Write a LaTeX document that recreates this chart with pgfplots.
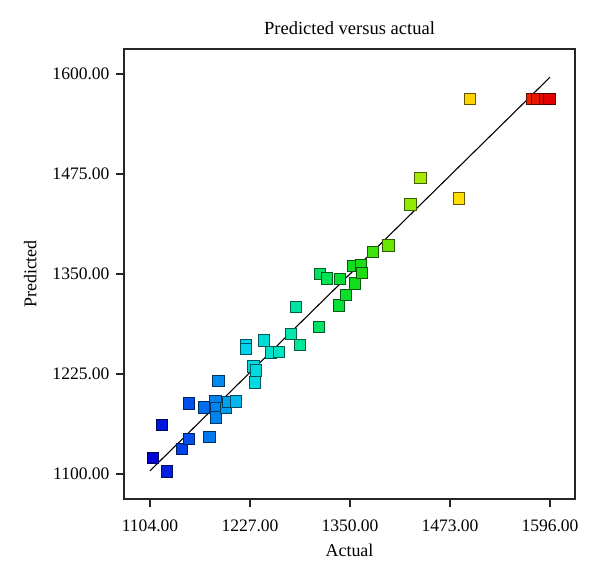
\documentclass[border=0pt]{standalone}
\usepackage{fontspec}
\setmainfont{Liberation Serif}
\usepackage{pgfplots}
\pgfplotsset{compat=1.18}
\pgfplotsset{colormap={dx}{rgb255(0cm)=(0,0,215) rgb255(8cm)=(0,70,235) rgb255(17cm)=(0,140,240) rgb255(24cm)=(0,215,235) rgb255(35cm)=(0,230,175) rgb255(45cm)=(0,225,70) rgb255(52cm)=(20,220,20) rgb255(60cm)=(110,230,0) rgb255(68cm)=(170,235,0) rgb255(77cm)=(255,225,0) rgb255(82cm)=(255,200,0) rgb255(95cm)=(240,40,0) rgb255(100cm)=(225,0,0)}}
\begin{document}
\begin{tikzpicture}[x=1bp,y=1bp]
\path[use as bounding box] (0,0) rectangle (600,584);
\begin{axis}[
  at={(124bp,85bp)}, anchor=south west,
  width=451bp, height=450bp, scale only axis,
  xmin=1072, xmax=1626.75, ymin=1068.75, ymax=1631.25,
  xtick={1104,1227,1350,1473,1596},
  ytick={1100,1225,1350,1475,1600},
  xtick pos=left, ytick pos=left, tick align=outside,
  major tick length=8bp,
  axis line style={line width=1.1pt, black!85},
  every tick/.style={line width=1.1pt, black!85},
  /pgf/number format/.cd, fixed, fixed zerofill, precision=2, 1000 sep={}, assume math mode=true,
  /pgfplots/.cd,
  tick label style={font=\fontsize{17.6}{20}\selectfont},
  xticklabel style={yshift=-9bp},
  yticklabel style={xshift=-3bp},
  label style={font=\fontsize{18}{20}\selectfont},
  xlabel style={yshift=-6bp},
  ylabel style={yshift=9bp},
  title style={font=\fontsize{18.6}{20}\selectfont, yshift=5bp},
  title={Predicted versus actual},
  xlabel={Actual}, ylabel={Predicted},
  colormap name=dx,
  point meta min=1107, point meta max=1595,
  clip=false,
]
\addplot[black, line width=1.1pt] coordinates {(1104,1104) (1596,1596)};
\addplot[scatter, only marks, mark=square*, mark size=5.6bp, point meta=x,
  scatter/use mapped color={draw=mapped color!40!black, fill=mapped color, line width=1pt}]
 table {
x y
1107.3 1120.4
1119.1 1161.3
1124.5 1103.1
1143.7 1131.3
1151.6 1144.1
1152.3 1188.1
1170.1 1183.1
1177.2 1146.0
1188.3 1215.9
1184.6 1191.3
1184.9 1182.5
1185.2 1170.6
1197.8 1182.5
1200.6 1189.6
1209.8 1190.6
1222.3 1260.9
1222.1 1255.9
1244.6 1266.9
1231.3 1234.4
1234.7 1229.4
1233.4 1214.4
1252.8 1251.9
1262.3 1252.3
1277.1 1275.0
1283.6 1308.5
1288.5 1261.6
1311.6 1283.4
1313.5 1350.3
1321.5 1344.4
1338.1 1343.4
1336.5 1310.6
1344.7 1324.0
1356.5 1338.1
1353.4 1360.3
1363.3 1361.3
1364.5 1350.9
1378.7 1377.9
1397.4 1385.6
1424.4 1436.9
1436.7 1470.0
1484.4 1444.4
1497.6 1569.1
1574.5 1569.1
1580.7 1569.1
1589.9 1569.1
1595.4 1569.1
};
\end{axis}
\end{tikzpicture}
\end{document}
